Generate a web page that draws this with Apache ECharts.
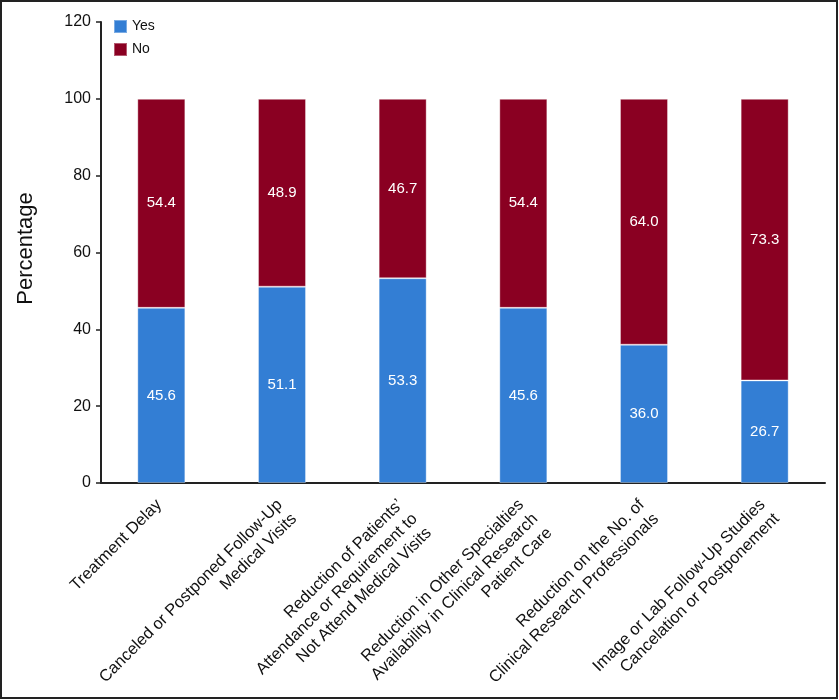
<!DOCTYPE html>
<html>
<head>
<meta charset="utf-8">
<script src="https://cdn.jsdelivr.net/npm/echarts@6/dist/echarts.min.js"></script>
<style>
    html, body { margin: 0; padding: 0; background: #fff; }
    #chart { width: 839px; height: 700px; }
</style>
</head>
<body>
<div id="chart"></div>
<script>
// categories and values
const categories = [
    'Treatment Delay',
    'Canceled or Postponed Follow-Up\nMedical Visits',
    'Reduction of Patients\u2019\nAttendance or Requirement to\nNot Attend Medical Visits',
    'Reduction in Other Specialties\nAvailability in Clinical Research\nPatient Care',
    'Reduction on the No. of\nClinical Research Professionals',
    'Image or Lab Follow-Up Studies\nCancelation or Postponement'
];
const yesValues = [45.6, 51.1, 53.3, 45.6, 36.0, 26.7];
const noValues = [54.4, 48.9, 46.7, 54.4, 64.0, 73.3];
const yTicks = { min: 0, max: 120, interval: 20 };

const fontFamily = '"Liberation Sans", Arial, Helvetica, sans-serif';

let chartElem = document.getElementById('chart');
if (chartElem) {
    let chart = echarts.init(chartElem);
    chart.setOption({
        animation: false,
        textStyle: { fontFamily: fontFamily },
        graphic: [{
            type: 'rect',
            shape: { x: 1, y: 1, width: 836, height: 697 },
            style: { fill: null, stroke: '#222', lineWidth: 2 },
            silent: true
        }],
        legend: {
            orient: 'vertical',
            left: 108,
            top: 14,
            itemWidth: 13,
            itemHeight: 13,
            itemGap: 8,
            icon: 'rect',
            textStyle: { fontSize: 14, color: '#111', fontFamily: fontFamily },
            data: ['Yes', 'No']
        },
        grid: {
            left: 101,
            right: 14,
            top: 22,
            bottom: 217,
            containLabel: false,
            outerBoundsMode: 'none'
        },
        xAxis: [{
            type: 'category',
            data: categories,
            axisTick: { show: false },
            axisLine: { show: true, lineStyle: { color: '#222', width: 2 } },
            axisLabel: {
                interval: 0,
                rotate: 45,
                margin: 3,
                verticalAlign: 'top',
                padding: [0, 13, 0, 0],
                fontSize: 16.5,
                lineHeight: 20,
                color: '#111',
                fontFamily: fontFamily
            },
            splitLine: { show: false }
        }],
        yAxis: [{
            type: 'value',
            min: yTicks.min,
            max: yTicks.max,
            interval: yTicks.interval,
            name: 'Percentage',
            nameLocation: 'middle',
            nameGap: 64,
            nameTextStyle: { fontSize: 22, color: '#111', fontFamily: fontFamily, padding: [0, 0, 0, 8] },
            axisLine: { show: true, lineStyle: { color: '#222', width: 2 } },
            axisTick: { show: true, length: 5, lineStyle: { color: '#222', width: 1.5 } },
            axisLabel: { fontSize: 16, color: '#111', margin: 10, fontFamily: fontFamily },
            splitLine: { show: false }
        }],
        series: [{
            name: 'Yes',
            type: 'bar',
            stack: 'total',
            barWidth: 48,
            data: yesValues,
            color: '#337ed4',
            itemStyle: { borderColor: 'rgba(255,255,255,0.35)', borderWidth: 1 },
            label: {
                show: true,
                position: 'inside',
                color: '#fff',
                fontSize: 15,
                fontFamily: fontFamily,
                formatter: function(p) { return p.value.toFixed(1); }
            }
        }, {
            name: 'No',
            type: 'bar',
            stack: 'total',
            barWidth: 48,
            data: noValues,
            color: '#8a0022',
            itemStyle: { borderColor: 'rgba(255,255,255,0.35)', borderWidth: 1 },
            label: {
                show: true,
                position: 'inside',
                color: '#fff',
                fontSize: 15,
                fontFamily: fontFamily,
                formatter: function(p) { return p.value.toFixed(1); }
            }
        }]
    });
    window.addEventListener('resize', function() {
        setTimeout(() => {
            chart.resize();
        }, 500);
    });
}
</script>
</body>
</html>
